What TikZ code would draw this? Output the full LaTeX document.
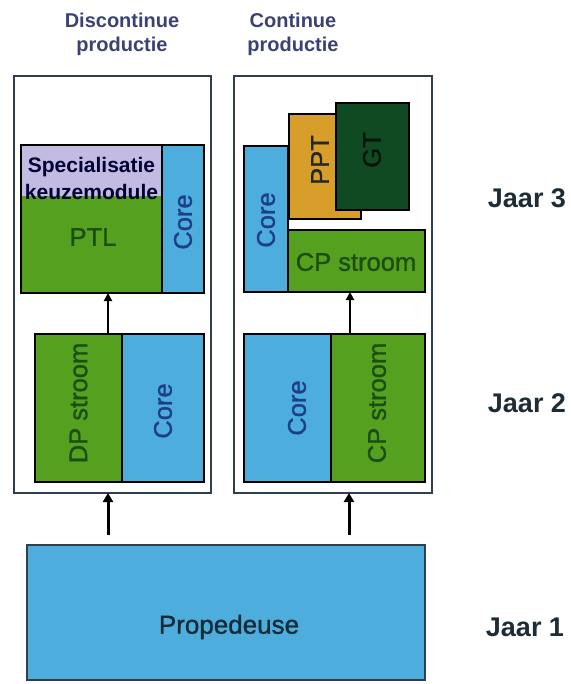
\documentclass[tikz,border=0pt]{standalone}
\usepackage{fontspec}
\setmainfont{Liberation Sans}
\newfontfamily\medfont[FakeBold=1.2]{Liberation Sans}
\usetikzlibrary{arrows.meta}
\definecolor{cgreen}{HTML}{55A01E}
\definecolor{cblue}{HTML}{4DAEDD}
\definecolor{clav}{HTML}{C3BBE2}
\definecolor{cgold}{HTML}{D79E2A}
\definecolor{cdark}{HTML}{0F4A22}
\definecolor{cframe}{HTML}{2F3F4F}
\definecolor{ttitle}{HTML}{3B4272}
\definecolor{tnavy}{HTML}{1D3F8A}
\definecolor{tgreen}{HTML}{1C4E12}
\definecolor{tjaar}{HTML}{1E2D35}
\begin{document}
\begin{tikzpicture}[x=1pt,y=-1pt,
  frame/.style={draw=cframe,line width=1.6pt,fill=white,inner sep=0,outer sep=0},
  blk/.style={draw=black,line width=1.5pt,inner sep=0,outer sep=0},
  fillonly/.style={inner sep=0,outer sep=0},
  lbl/.style={font=\medfont\fontsize{25.5}{28}\selectfont,inner sep=0},
  title/.style={font=\fontsize{20}{24}\selectfont\bfseries,text=ttitle,align=center,inner sep=0},
  jaar/.style={font=\fontsize{27}{29}\selectfont\bfseries,text=tjaar,inner sep=0},
  bigarrow/.style={line width=3pt,-{Triangle[length=9pt,width=10pt]}},
  smallarrow/.style={line width=2pt,-{Triangle[length=8pt,width=8pt]}}
]
\useasboundingbox (0,0) rectangle (570,684);
% titles
\node[title] (t1) at (122,34) {Discontinue\\productie};
\node[title] (t2) at (293,34) {Continue\\productie};
% frames
\node[frame,minimum width=197pt,minimum height=417pt] (lframe) at (112.5,284.5) {};
\node[frame,minimum width=198pt,minimum height=417pt] (rframe) at (333,284.5) {};
% left year 3
\node[fillonly,fill=clav,minimum width=141pt,minimum height=51pt] (spec) at (91.5,170.5) {};
\node[fillonly,fill=cgreen,minimum width=141pt,minimum height=97pt] (ptl) at (91.5,244.5) {};
\node[lbl,text=tgreen] (ptlt) at (93,237) {PTL};
\node[font=\fontsize{21}{27}\selectfont\bfseries,text=black!80!blue,align=center,inner sep=0] (spect) at (91.5,178) {Specialisatie\\keuzemodule};
\node[blk,fill=cblue,minimum width=42pt,minimum height=148pt] (lcore3) at (183,219) {};
\node[lbl,text=tnavy,rotate=90] (lcore3t) at (183,222) {Core};
\node[blk,minimum width=183pt,minimum height=148pt] (lyr3) at (112.5,219) {};
% left year 2
\node[blk,fill=cgreen,minimum width=87pt,minimum height=148pt] (dp) at (78.5,408) {};
\node[lbl,text=tgreen,rotate=90] (dpt) at (78.5,403) {DP stroom};
\node[blk,fill=cblue,minimum width=82pt,minimum height=148pt] (lcore2) at (163,408) {};
\node[lbl,text=tnavy,rotate=90] (lcore2t) at (163,411) {Core};
% right year 3
\node[blk,fill=cblue,minimum width=44pt,minimum height=146pt] (rcore3) at (266,219) {};
\node[lbl,text=tnavy,rotate=90] (rcore3t) at (266,220) {Core};
\node[blk,fill=cgreen,minimum width=137pt,minimum height=62pt] (cp3) at (356.5,261) {};
\node[lbl,text=tgreen] (cp3t) at (356,262) {CP stroom};
\node[blk,fill=cgold,minimum width=72pt,minimum height=105pt] (ppt) at (325,166.5) {};
\node[lbl,text=black!85,rotate=90] (pptt) at (320,160) {PPT};
\node[blk,fill=cdark,minimum width=73pt,minimum height=107pt] (gt) at (372.5,156.5) {};
\node[lbl,text=black!75!cdark,rotate=90] (gtt) at (372,150) {GT};
% right year 2
\node[blk,fill=cblue,minimum width=87pt,minimum height=148pt] (rcore2) at (287.5,408) {};
\node[lbl,text=tnavy,rotate=90] (rcore2t) at (297,408) {Core};
\node[blk,fill=cgreen,minimum width=94pt,minimum height=148pt] (cp2) at (378,408) {};
\node[lbl,text=tgreen,rotate=90] (cp2t) at (377,403) {CP stroom};
% propedeuse
\node[draw=cframe,line width=1.4pt,fill=cblue,inner sep=0,minimum width=398pt,minimum height=135pt] (prop) at (226,612.5) {};
\node[font=\medfont\fontsize{26}{28}\selectfont,text=black!75!cblue,inner sep=0] (propt) at (229,627) {Propedeuse};
% jaar labels
\node[jaar] (j3) at (527,198) {Jaar 3};
\node[jaar] (j2) at (527,403) {Jaar 2};
\node[jaar] (j1) at (525,627) {Jaar 1};
% arrows
\coordinate (a1) at (108,535);
\coordinate (a2) at (349,535);
\coordinate (a3) at (108,334);
\coordinate (a4) at (350,334);
\draw[bigarrow] (a1) -- (a1 |- lframe.south);
\draw[bigarrow] (a2) -- (a2 |- rframe.south);
\draw[smallarrow] (a3) -- (a3 |- lyr3.south);
\draw[smallarrow] (a4) -- (a4 |- cp3.south);
\end{tikzpicture}
\end{document}
